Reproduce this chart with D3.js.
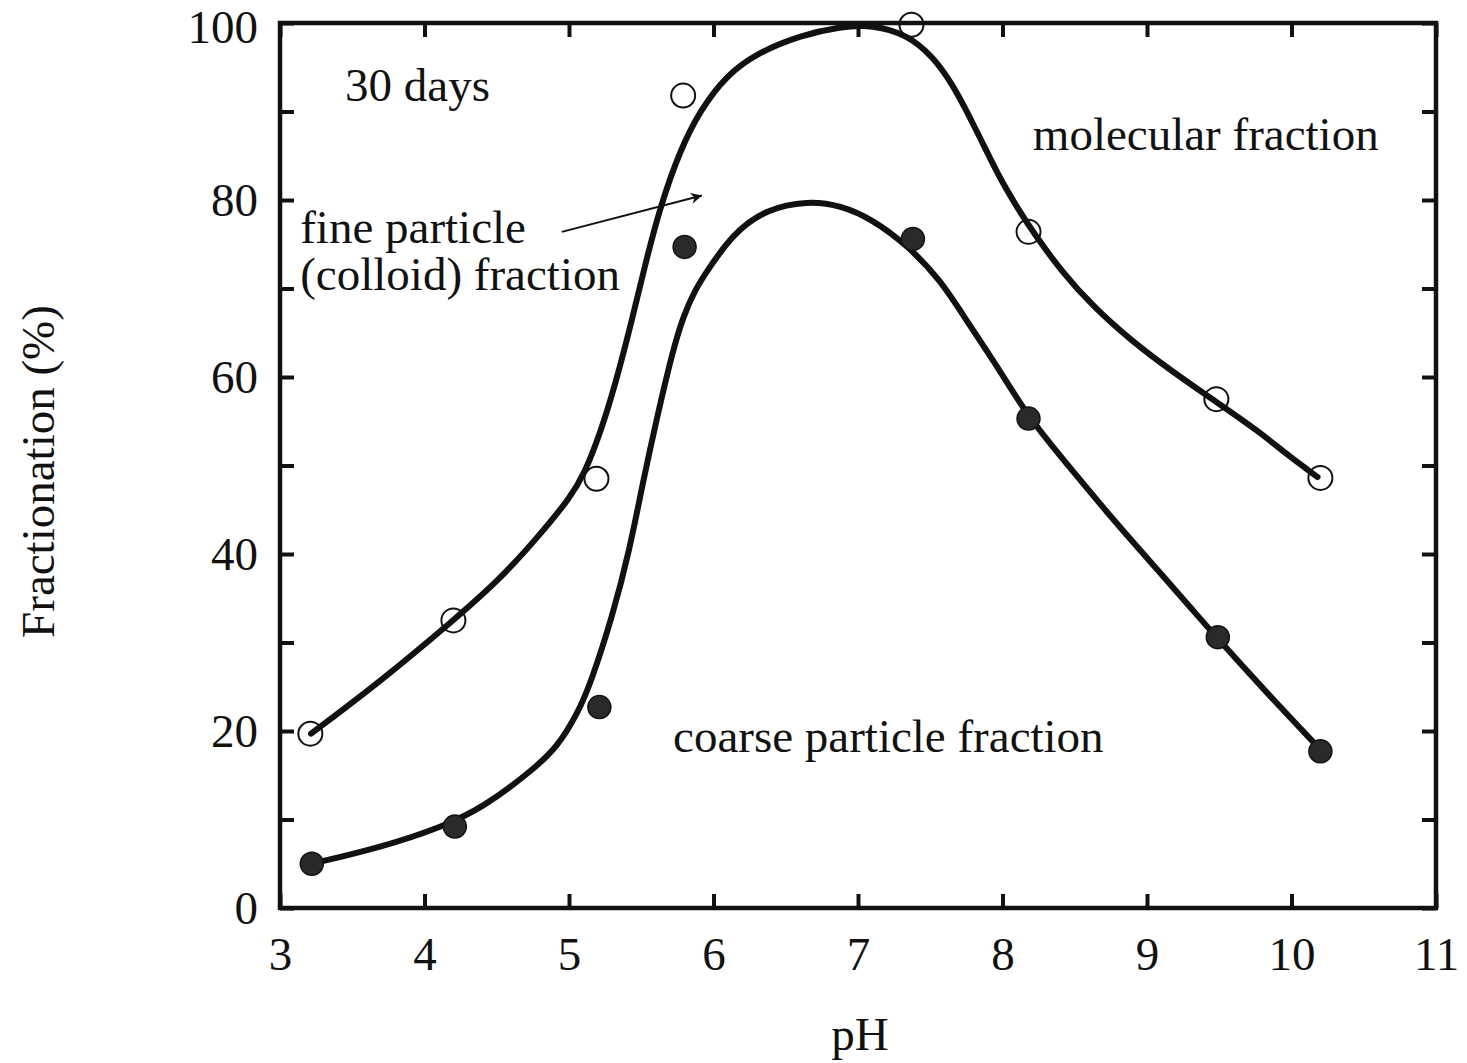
<!DOCTYPE html>
<html>
<head>
<meta charset="utf-8">
<script src="https://cdn.jsdelivr.net/npm/d3@7"></script>
<style>
    body { margin: 0; background: #fff; }
    text { font-family: 'Liberation Serif', 'Times New Roman', serif; fill: #111; }
</style>
</head>
<body>
<div id="graph-container"></div>
<script>
// measured points (pH, %)
const openPH = [3.21, 4.2, 5.19, 5.79, 7.37, 8.18, 9.48, 10.2];
const openVal = [19.7, 32.5, 48.5, 91.8, 99.8, 76.4, 57.5, 48.6];
const filledPH = [3.22, 4.21, 5.21, 5.8, 7.38, 8.18, 9.49, 10.2];
const filledVal = [5.0, 9.2, 22.7, 74.7, 75.6, 55.3, 30.6, 17.7];

// hand-drawn fitted curves
const upperCurvePH = [3.215, 3.71, 4.2, 4.52, 4.8, 5.01, 5.11, 5.215, 5.32, 5.44, 5.53, 5.63, 5.77, 5.91, 6.09,
    6.3, 6.6, 6.88, 7.1, 7.34, 7.52, 7.66, 7.75, 7.87, 7.98, 8.1, 8.21, 8.4, 8.63, 8.9, 9.16, 9.46, 9.78, 9.97, 10.18];
const upperCurveVal = [19.7, 25.8, 32.5, 37.1, 42.2, 46.4, 49.2, 53.6, 59.1, 66.7, 72.9, 79.2, 85.7, 90.2, 94.1,
    96.6, 98.6, 99.6, 99.8, 98.7, 96.2, 92.9, 90.1, 86.2, 82.5, 79.2, 76.4, 72.1, 67.9, 64.0, 60.8, 57.4, 53.8, 51.2, 48.7];
const lowerCurvePH = [3.22, 3.71, 4.13, 4.41, 4.75, 4.92, 5.06, 5.15, 5.3, 5.42, 5.51, 5.61, 5.72, 5.79,
    5.87, 5.96, 6.14, 6.37, 6.65, 6.88, 7.1, 7.34, 7.57, 7.75, 7.98, 8.18, 8.49, 8.79, 9.09, 9.32, 9.48, 9.83, 10.2];
const lowerCurveVal = [5.0, 6.9, 9.2, 11.4, 15.6, 18.2, 22.0, 25.4, 32.9, 40.5, 48.0, 55.5, 63.1, 66.8,
    69.8, 72.1, 76.3, 79.0, 79.9, 79.4, 77.8, 74.9, 71.0, 66.4, 60.8, 55.4, 49.3, 43.4, 37.9, 33.6, 30.6, 24.3, 17.9];

const xTicks = [3, 4, 5, 6, 7, 8, 9, 10, 11];
const yTicks = [0, 20, 40, 60, 80, 100];
const yMinorTicks = [0, 10, 20, 30, 40, 50, 60, 70, 80, 90, 100];

// annotations: [text, pH, %]
const notes = [
    ['30 days', 3.45, 91.2],
    ['molecular fraction', 8.21, 85.6],
    ['fine particle', 3.14, 75.1],
    ['(colloid) fraction', 3.14, 69.8],
    ['coarse particle fraction', 5.72, 17.6],
];
const arrowPH = [4.95, 5.92];
const arrowVal = [76.4, 80.5];

const width = 1467;
const height = 1063;
const frame = {
    left: 280,
    right: 1436,
    top: 23,
    bottom: 908,
};

const svg = d3.select('#graph-container')
    .append('svg')
    .attr('width', width)
    .attr('height', height);

svg.append('defs').append('marker')
    .attr('id', 'head')
    .attr('viewBox', '0 0 10 10')
    .attr('refX', 10)
    .attr('refY', 5)
    .attr('markerWidth', 30)
    .attr('markerHeight', 11)
    .attr('markerUnits', 'userSpaceOnUse')
    .attr('orient', 'auto')
    .append('path')
    .attr('d', 'M0,0 L10,5 L0,10 L3,5 Z')
    .attr('fill', '#111');

const xScale = d3.scaleLinear().domain([3, 11]).range([frame.left, frame.right]);
const yScale = d3.scaleLinear().domain([0, 100]).range([frame.bottom, frame.top]);

const fontSize = 47;

// Axes, ticks pointing inward
const xAxis = d3.axisBottom(xScale)
    .tickValues(xTicks)
    .tickSizeInner(-14)
    .tickSizeOuter(0)
    .tickPadding(29)
    .tickFormat(d3.format('d'));
const gx = svg.append('g')
    .attr('transform', `translate(0,${frame.bottom})`)
    .call(xAxis);

const yAxis = d3.axisLeft(yScale)
    .tickValues(yMinorTicks)
    .tickSizeInner(-14)
    .tickSizeOuter(0)
    .tickPadding(22)
    .tickFormat((v) => (yTicks.includes(v) ? v : ''));
const gy = svg.append('g')
    .attr('transform', `translate(${frame.left},0)`)
    .call(yAxis);

const gTop = svg.append('g')
    .attr('transform', `translate(0,${frame.top})`)
    .call(d3.axisTop(xScale).tickValues(xTicks).tickSizeInner(-14).tickSizeOuter(0).tickFormat(''));
const gRight = svg.append('g')
    .attr('transform', `translate(${frame.right},0)`)
    .call(d3.axisRight(yScale).tickValues(yMinorTicks).tickSizeInner(-14).tickSizeOuter(0).tickFormat(''));

[gx, gy, gTop, gRight].forEach((g) => {
    g.select('.domain').remove();
    g.selectAll('.tick line').attr('stroke', '#111').attr('stroke-width', 4);
    g.selectAll('.tick text')
        .style('font-family', "'Liberation Serif', 'Times New Roman', serif")
        .style('font-size', `${fontSize}px`)
        .attr('fill', '#111');
});
// keep the top label inside the page
gy.selectAll('.tick text').filter((d) => d === 100).attr('dy', '0.42em');

// Frame
svg.append('rect')
    .attr('x', frame.left)
    .attr('y', frame.top)
    .attr('width', frame.right - frame.left)
    .attr('height', frame.bottom - frame.top)
    .attr('fill', 'none')
    .attr('stroke', '#111')
    .attr('stroke-width', 4.5);

// Axis titles
svg.append('text')
    .attr('x', 860)
    .attr('y', 1050)
    .attr('text-anchor', 'middle')
    .style('font-size', `${fontSize}px`)
    .text('pH');

svg.append('text')
    .attr('transform', `translate(54,${(frame.top + frame.bottom) / 2 + 6}) rotate(-90)`)
    .attr('text-anchor', 'middle')
    .style('font-size', `${fontSize}px`)
    .text('Fractionation (%)');

// Curves
const lineFunction = d3.line()
    .x((d) => xScale(d[0]))
    .y((d) => yScale(d[1]))
    .curve(d3.curveBasis);

const upper = upperCurvePH.map((p, i) => [p, upperCurveVal[i]]);
const lower = lowerCurvePH.map((p, i) => [p, lowerCurveVal[i]]);

[upper, lower].forEach((pts) => {
    svg.append('path')
        .attr('d', lineFunction(pts))
        .attr('fill', 'none')
        .attr('stroke', '#111')
        .attr('stroke-width', 6)
        .attr('stroke-linecap', 'round');
});

// Markers
svg.append('g')
    .selectAll('circle')
    .data(openPH.map((p, i) => [p, openVal[i]]))
    .join('circle')
    .attr('cx', (d) => xScale(d[0]))
    .attr('cy', (d) => yScale(d[1]))
    .attr('r', 12)
    .attr('fill', 'none')
    .attr('stroke', '#111')
    .attr('stroke-width', 2);

svg.append('g')
    .selectAll('circle')
    .data(filledPH.map((p, i) => [p, filledVal[i]]))
    .join('circle')
    .attr('cx', (d) => xScale(d[0]))
    .attr('cy', (d) => yScale(d[1]))
    .attr('r', 11.5)
    .attr('fill', '#2a2a2a')
    .attr('stroke', '#111')
    .attr('stroke-width', 1.5);

// Annotations
svg.append('g')
    .selectAll('text')
    .data(notes)
    .join('text')
    .attr('x', (d) => xScale(d[1]))
    .attr('y', (d) => yScale(d[2]))
    .style('font-size', `${fontSize}px`)
    .text((d) => d[0]);

svg.append('line')
    .attr('x1', xScale(arrowPH[0]))
    .attr('y1', yScale(arrowVal[0]))
    .attr('x2', xScale(arrowPH[1]))
    .attr('y2', yScale(arrowVal[1]))
    .attr('stroke', '#111')
    .attr('stroke-width', 2)
    .attr('marker-end', 'url(#head)');
</script>
</body>
</html>
